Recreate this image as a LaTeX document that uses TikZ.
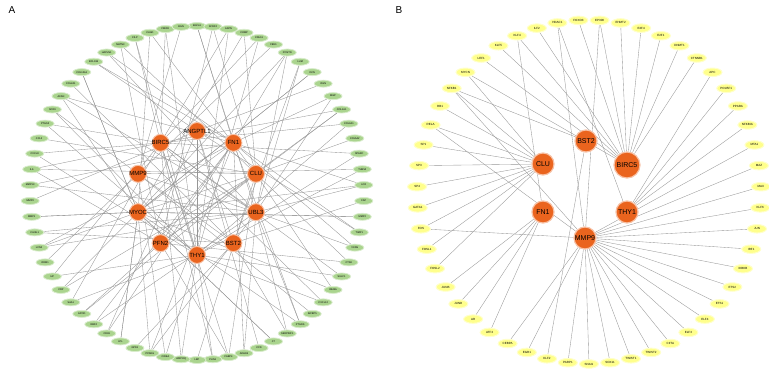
\documentclass[tikz,border=0pt]{standalone}
\usepackage{fontspec}
\setmainfont{Liberation Sans}
\usetikzlibrary{shapes.geometric}
\pgfdeclarelayer{edges}
\pgfsetlayers{edges,main}
\definecolor{huborange}{RGB}{234,100,30}
\definecolor{leafgreen}{RGB}{170,212,142}
\definecolor{leafyellow}{RGB}{255,255,140}
\definecolor{linkgray}{RGB}{150,150,150}
\tikzset{
  hubtext/.style={font=\fontsize{6}{6}\selectfont, inner sep=0pt},
  hubA/.style={circle, fill=huborange, draw=huborange!40, line width=1pt, inner sep=0pt,
    minimum size=17pt, label={[hubtext]center:#1}},
  hubB/.style={circle, fill=huborange, draw=huborange!40, line width=1.2pt, inner sep=0pt,
    minimum size=22pt, label={[hubtext, font=\fontsize{7}{7}\selectfont]center:#1}},
  leafA/.style={ellipse, fill=leafgreen, draw=leafgreen!45, line width=0.8pt, inner sep=0pt,
    minimum width=18pt, minimum height=7pt, font=\fontsize{2.5}{2.5}\selectfont},
  leafB/.style={ellipse, fill=leafyellow, draw=leafyellow!45, line width=1pt, inner sep=0pt,
    minimum width=19pt, minimum height=8.5pt, font=\fontsize{3}{3}\selectfont},
  link/.style={draw=linkgray, line width=0.35pt},
  panel/.style={font=\fontsize{10}{10}\selectfont, inner sep=0pt}
}
\begin{document}
\begin{tikzpicture}[x=1pt,y=-1pt]
\useasboundingbox (0,0) rectangle (769,370);
\node[panel] (labA) at (12,10) {A};
\node[panel] (labB) at (399,10) {B};
% panel A: hub genes and their neighbours
\begin{scope}[shift={(197,193)}]
\foreach \g [count=\i] in {ANGPTL1,FN1,CLU,UBL3,BST2,THY1,PFN2,MYOC,MMP9,BIRC5}
  \node[hubA=\g] (ha\i) at ({-90+(\i-1)*36}:62) {};
\foreach \g [count=\i] in {EGFL6,SFRP4,ASPN,COMP,CDH11,FBN1,POSTN,LUM,DCN,OGN,MGP,COL1A1,
    COL3A1,COL5A2,SPARC,THBS2,LOX,FAP,MMP2,TIMP1,VCAN,CTSK,SULF1,INHBA,CXCL12,IGFBP5,
    PTGDS,SERPINF1,C7,CFD,ADH1B,FABP4,PLIN1,LEP,ADIPOQ,CIDEA,PPARG,GPD1,LPL,CD36,RBP4,
    APOD,SAA1,CRP,HP,ORM1,LCN2,CHI3L1,MMP1,MMP3,MMP13,IL6,CXCL8,CCL2,PTGS2,SOX9,ACAN,
    COL2A1,COL10A1,BCL11B,HAPLN1,MATN3,CILP,CHAD,FMOD,BGN}
  \node[leafA] (a\i) at ({-90+(\i-1)*(360/66)}:167) {\g};
\end{scope}
\begin{pgfonlayer}{edges}
\foreach \i in {1,...,66}{
  \pgfmathtruncatemacro\h{mod(\i*3,10)+1}
  \pgfmathtruncatemacro\k{mod(\i*7+4,10)+1}
  \pgfmathtruncatemacro\m{mod(\i*9+1,10)+1}
  \pgfmathtruncatemacro\n{mod(\i*3+6,10)+1}
  \pgfmathtruncatemacro\r{mod(\i,4)}
  \pgfmathtruncatemacro\q{mod(\i,5)}
  \draw[link] (a\i) -- (ha\h);
  \ifodd\i \draw[link] (a\i) -- (ha\k); \fi
  \ifnum\r=0 \draw[link] (a\i) -- (ha\m); \fi
  \ifnum\q=2 \draw[link] (a\i) -- (ha\n); \fi
}
\foreach \s/\t in {1/5,2/7,3/8,4/10,5/9,6/1,7/3,8/2,9/4,10/6}
  \draw[link] (ha\s) -- (ha\t);
\end{pgfonlayer}
% panel B: transcription factors
\begin{scope}[shift={(589,192)}]
\foreach \g [count=\i] in {RB1,NFKB1,MYCN,LEF1,KLF5,KLF4,ILF2,HDAC1,FOXO3,EP300,EHMT2,
    E2F4,E2F1,DNMT1,CTNNB1,APC,POU5F1,PPARA,NFKBIA,MTA1,MAZ,MAX,KLF6,JUN,IRF1,IKBKB,
    ETS2,ETS1,ELF4,ELF3,CIITA,TWIST2,TWIST1,SOX11,SNAI1,PARP1,KLF2,EGR1,CEBPA,ATF2,AR,
    JUND,JUNB,FOSL2,FOSL1,FOS,GATA1,SP4,SP3,SP1,RELA}
  \node[leafB] (\g) at ({210+(\i-1)*(360/51)}:172) {\g};
\end{scope}
\node[hubB=BST2] (bst) at (586,141) {};
\node[hubB=CLU] (clu) at (543,164) {};
\node[hubB=BIRC5, minimum size=26pt] (bir) at (627,165) {};
\node[hubB=FN1] (fn) at (543,212) {};
\node[hubB=THY1] (thy) at (627,212) {};
\node[hubB=MMP9] (mmp) at (585,238) {};
\begin{pgfonlayer}{edges}
\foreach \s/\t in {RB1/clu,NFKB1/clu,NFKB1/mmp,NFKB1/bst,MYCN/clu,MYCN/bir,LEF1/bir,
    KLF5/bir,KLF4/bir,KLF4/fn,ILF2/bir,HDAC1/mmp,HDAC1/thy,FOXO3/bir,EP300/bir,EP300/mmp,
    EHMT2/bir,E2F4/bir,E2F1/bir,DNMT1/bir,CTNNB1/bir,APC/thy,POU5F1/thy,PPARA/thy,
    NFKBIA/thy,MTA1/mmp,MAZ/mmp,MAX/mmp,KLF6/mmp,JUN/mmp,IRF1/mmp,IKBKB/mmp,ETS2/mmp,
    ETS1/mmp,ELF4/mmp,ELF3/mmp,CIITA/mmp,TWIST2/mmp,TWIST1/mmp,SOX11/mmp,SNAI1/mmp,
    PARP1/mmp,KLF2/bst,EGR1/mmp,CEBPA/mmp,ATF2/fn,AR/fn,JUND/fn,JUNB/fn,FOSL2/clu,
    FOSL1/clu,FOS/mmp,FOS/clu,GATA1/clu,SP4/clu,SP3/clu,SP1/clu,RELA/clu,RELA/mmp}
  \draw[link] (\s) -- (\t);
\end{pgfonlayer}
\end{tikzpicture}
\end{document}
